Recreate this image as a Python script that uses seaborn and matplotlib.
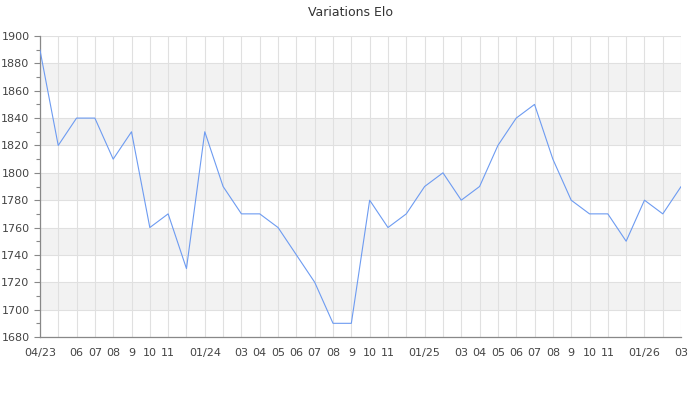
import numpy as np
import pandas as pd
import seaborn as sns
import matplotlib.pyplot as plt
from matplotlib.ticker import MultipleLocator

months = ["04/23", "05/23", "06/23", "07/23", "08/23", "09/23", "10/23", "11/23", "12/23",
          "01/24", "02/24", "03/24", "04/24", "05/24", "06/24", "07/24", "08/24", "09/24",
          "10/24", "11/24", "12/24", "01/25", "02/25", "03/25", "04/25", "05/25", "06/25",
          "07/25", "08/25", "09/25", "10/25", "11/25", "12/25", "01/26", "02/26", "03/26"]
elo = [1890, 1820, 1840, 1840, 1810, 1830, 1760, 1770, 1730,
       1830, 1790, 1770, 1770, 1760, 1740, 1720, 1690, 1690,
       1780, 1760, 1770, 1790, 1800, 1780, 1790, 1820, 1840,
       1850, 1810, 1780, 1770, 1770, 1750, 1780, 1770, 1790]
tick_labels = ["04/23", "", "06", "07", "08", "9", "10", "11", "",
               "01/24", "", "03", "04", "05", "06", "07", "08", "9",
               "10", "11", "", "01/25", "", "03", "04", "05", "06",
               "07", "08", "9", "10", "11", "", "01/26", "", "03"]

df = pd.DataFrame({"idx": np.arange(len(months)), "elo": elo})

sns.set_style("white")
plt.rcParams['font.family'] = ['DejaVu Sans']

fig = plt.figure(figsize=(7, 4), dpi=100)
ax = fig.add_axes([0.057, 0.1575, 0.916, 0.7525])

# alternating bands
for lo in range(1700, 1900, 40):
    ax.axhspan(lo, lo + 20, color="#f2f2f2", zorder=0, lw=0)

sns.lineplot(data=df, x="idx", y="elo", ax=ax, color="#6d9bf1", lw=0.8, zorder=3)

ax.set_xlim(0, len(months) - 1)
ax.set_ylim(1680, 1900)
ax.set_xticks(df["idx"])
ax.set_xticklabels(tick_labels)
ax.yaxis.set_major_locator(MultipleLocator(20))
ax.yaxis.set_minor_locator(MultipleLocator(10))
ax.grid(True, which="major", color="#e0e0e0", lw=0.8, zorder=1)
ax.set_axisbelow(True)
ax.set_xlabel("")
ax.set_ylabel("")

for s in ["top", "right"]:
    ax.spines[s].set_visible(False)
for s in ["left", "bottom"]:
    ax.spines[s].set_color("#888888")
    ax.spines[s].set_linewidth(0.9)

ax.tick_params(axis="x", length=0, labelsize=8, colors="#444444", pad=8)
ax.tick_params(axis="y", which="major", length=4, width=0.8, color="#888888",
               labelsize=8, labelcolor="#444444", left=True)
ax.tick_params(axis="y", which="minor", length=3, width=0.8, color="#888888", left=True)

fig.suptitle("Variations Elo", y=0.985, fontsize=9, color="#333333")

fig.savefig("out.png", dpi=100)
